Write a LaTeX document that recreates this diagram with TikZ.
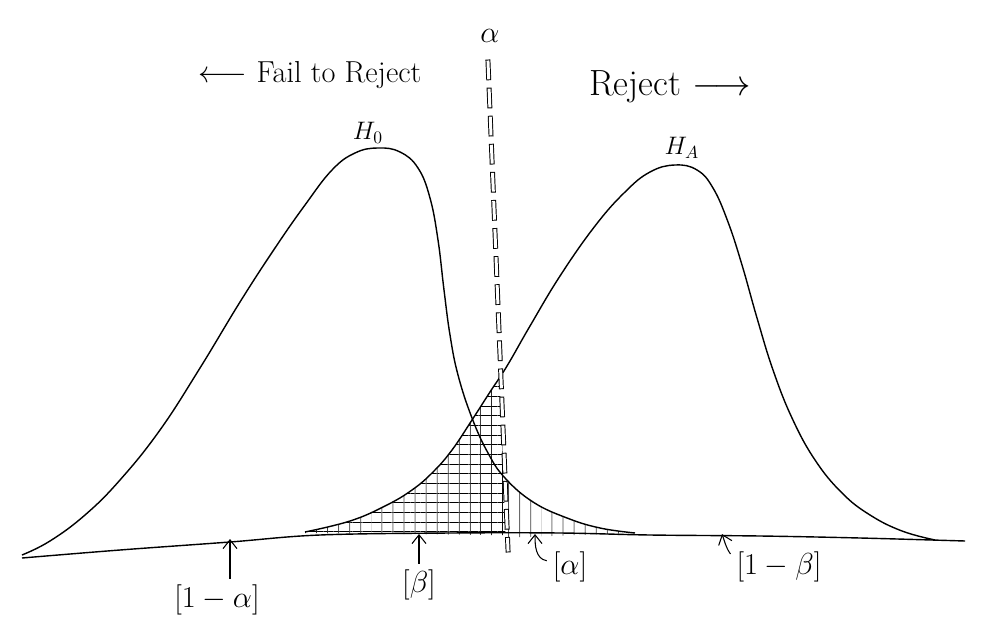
\documentclass[tikz,border=0pt]{standalone}
\usepackage{tikz}
\usetikzlibrary{arrows.meta, patterns.meta}

\begin{document}
\begin{tikzpicture}[x=0.02cm, y=-0.02cm, line join=round,
  curve/.style={line width=0.8pt},
  upar/.style={-{Straight Barb[length=5pt, width=8pt]}, line width=0.6pt},
  crit/.style={line width=0.55pt, double=white, double distance=1.7pt, line cap=rect, dash pattern=on 9pt off 7pt},
  hatchh/.style={pattern={Lines[angle=0, distance=5.5pt, line width=0.45pt]}},
  hatchv/.style={pattern={Lines[angle=90, distance=6.5pt, line width=0.45pt]}}]
\useasboundingbox (0,0) rectangle (999,638);

\def\hzero{plot[smooth, tension=0.7] coordinates {(22,555) (50,541) (85,515) (120,480) (160,430) (200,368) (240,302) (275,248) (305,205) (332,170) (355,153) (378,148) (400,152) (418,168) (430,198) (438,240) (444,290) (450,335) (458,375) (472,418) (488,453) (505,478) (533,502) (567,518) (600,528) (635,533)}}
\def\halt{plot[smooth, tension=0.7] coordinates {(305,532) (350,521) (385,506) (412,490) (433,472) (452,450) (472,420) (490,392) (507,366) (530,326) (560,276) (595,226) (625,192) (650,172) (675,165) (697,170) (713,188) (728,222) (742,265) (757,318) (773,370) (792,418) (815,460) (842,493) (870,515) (902,531) (935,540)}}

% beta region
\begin{scope}
\clip (0,0) -- (488,60) -- (508,600) -- (0,600) -- cycle;
\fill[hatchh] \halt -- (305,533) -- cycle;
\fill[hatchv] \halt -- (305,533) -- cycle;
\end{scope}

% alpha region
\begin{scope}
\clip (488,60) -- (999,60) -- (999,600) -- (508,600) -- cycle;
\fill[hatchv] \hzero -- cycle;
\end{scope}

\draw[curve] plot[smooth, tension=0.6] coordinates {(22,558) (120,550) (230,542) (320,535) (450,533) (560,533) (650,535) (760,536) (860,538) (965,541)};
\draw[curve] \hzero;
\draw[curve] \halt;

\coordinate (ctop) at (488,62);
\coordinate (cbot) at (508,550);
\draw[crit] (ctop) -- (cbot);
\node[font=\LARGE] (alpha) at (490,36) {$\alpha$};

\node[font=\Large] (H0) at (368,133) {$H_0$};
\node[font=\Large] (HA) at (682,148) {$H_A$};

\node[font=\LARGE] (fail) at (310,75) {$\longleftarrow$ Fail to Reject};
\node[font=\huge] (rej) at (670,87) {Reject $\longrightarrow$};

\node[font=\LARGE] (L1) at (217,600) {$[1-\alpha]$};
\node[font=\LARGE] (L2) at (419,585) {$[\beta]$};
\node[font=\LARGE] (L3) at (570,567) {$[\alpha]$};
\node[font=\LARGE] (L4) at (779,567) {$[1-\beta]$};

\coordinate (t1) at (230,539);
\coordinate (t2) at (419,534);
\coordinate (t3) at (535,534);
\coordinate (t4) at (722,534);

\draw[upar] (L1.north -| t1) -- (t1);
\draw[upar] (L2.north -| t2) -- (t2);
\draw[upar] (L3.165) to[out=170, in=-90] (t3);
\draw[upar] (L4.165) to[out=125, in=-70] (t4);
\end{tikzpicture}
\end{document}
